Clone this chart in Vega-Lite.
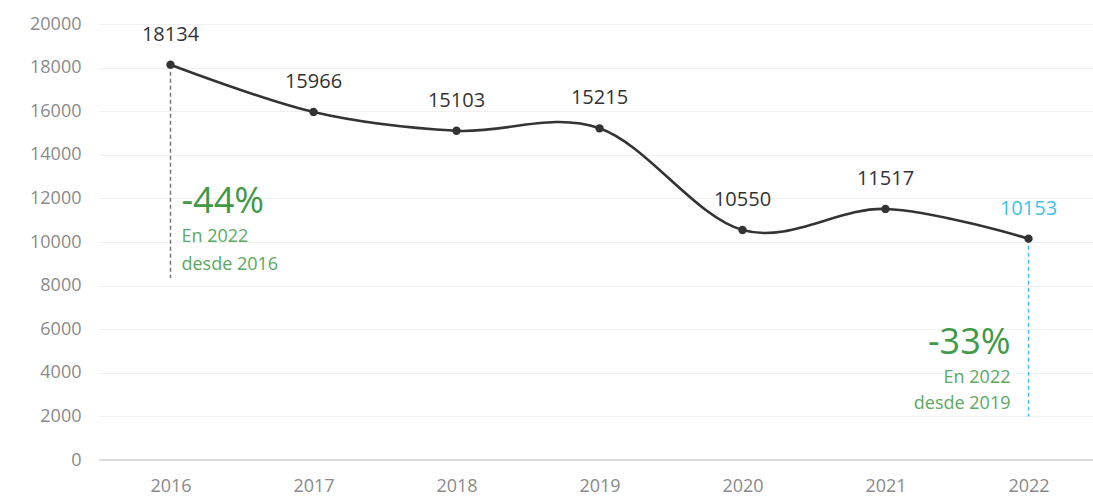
{
  "$schema": "https://vega.github.io/schema/vega-lite/v6.json",
  "width": 1001,
  "height": 436,
  "autosize": {"type": "none"},
  "padding": {"left": 99, "top": 24, "right": 0, "bottom": 39},
  "config": {"view": {"stroke": null}, "font": "Open Sans"},
  "datasets": {
    "series": [
      {"year": "2016", "value": 18134},
      {"year": "2017", "value": 15966},
      {"year": "2018", "value": 15103},
      {"year": "2019", "value": 15215},
      {"year": "2020", "value": 10550},
      {"year": "2021", "value": 11517},
      {"year": "2022", "value": 10153}
    ],
    "guides": [
      {"year": "2016", "from": 18134, "to": 8350, "kind": "gray"},
      {"year": "2022", "from": 10153, "to": 2000, "kind": "blue"}
    ],
    "notes": [
      {"year": "2016", "value": 11850, "text": "-44%", "side": "left", "size": "big"},
      {"year": "2016", "value": 10230, "text": "En 2022", "side": "left", "size": "small"},
      {"year": "2016", "value": 8950, "text": "desde 2016", "side": "left", "size": "small"},
      {"year": "2022", "value": 5370, "text": "-33%", "side": "right", "size": "big"},
      {"year": "2022", "value": 3760, "text": "En 2022", "side": "right", "size": "small"},
      {"year": "2022", "value": 2570, "text": "desde 2019", "side": "right", "size": "small"}
    ]
  },
  "encoding": {
    "x": {
      "field": "year", "type": "ordinal",
      "scale": {"type": "point", "padding": 0.5, "domain": ["2016","2017","2018","2019","2020","2021","2022"]},
      "axis": {"title": null, "labelAngle": 0, "domain": false, "ticks": false, "grid": false,
               "labelFontSize": 18, "labelColor": "#8a8a8a", "labelPadding": 17}
    }
  },
  "layer": [
    {
      "data": {"name": "series"},
      "mark": {"type": "line", "color": "#333333", "strokeWidth": 2.6, "interpolate": "cardinal"},
      "encoding": {
        "y": {
          "field": "value", "type": "quantitative",
          "scale": {"domain": [0, 20000], "nice": false},
          "axis": {"title": null, "values": [0,2000,4000,6000,8000,10000,12000,14000,16000,18000,20000],
                   "format": "d", "domain": false, "ticks": false, "gridColor": "#f0f0f0", "gridWidth": 1.2,
                   "labelFontSize": 18, "labelColor": "#8a8a8a", "labelPadding": 18}
        }
      }
    },
    {
      "data": {"values": [{"zero": 0}]},
      "mark": {"type": "rule", "color": "#dddddd", "strokeWidth": 2},
      "encoding": {"y": {"field": "zero", "type": "quantitative"}, "x": {"value": 0}, "x2": {"value": 1001}}
    },
    {
      "data": {"name": "guides"},
      "mark": {"type": "rule", "strokeWidth": 1.5, "strokeDash": [4, 3]},
      "encoding": {
        "y": {"field": "from", "type": "quantitative"},
        "y2": {"field": "to"},
        "color": {"condition": {"test": "datum.kind === 'blue'", "value": "#3cc2ef"}, "value": "#777777"}
      }
    },
    {
      "data": {"name": "series"},
      "mark": {"type": "point", "filled": true, "size": 70, "color": "#333333", "opacity": 1},
      "encoding": {"y": {"field": "value", "type": "quantitative"}}
    },
    {
      "data": {"name": "series"},
      "mark": {"type": "text", "dy": -30, "fontSize": 20, "baseline": "middle", "align": "center"},
      "encoding": {
        "y": {"field": "value", "type": "quantitative"},
        "text": {"field": "value", "type": "quantitative", "format": "d"},
        "color": {"condition": {"test": "datum.year === '2022'", "value": "#3cc2ef"}, "value": "#333333"}
      }
    },
    {
      "data": {"name": "notes"},
      "transform": [{"filter": "datum.side === 'left'"}],
      "mark": {"type": "text", "align": "left", "dx": 11, "baseline": "middle"},
      "encoding": {
        "y": {"field": "value", "type": "quantitative"},
        "text": {"field": "text"},
        "size": {"condition": {"test": "datum.size === 'big'", "value": 36}, "value": 18},
        "color": {"condition": {"test": "datum.size === 'big'", "value": "#3f9a48"}, "value": "#5aa95f"}
      }
    },
    {
      "data": {"name": "notes"},
      "transform": [{"filter": "datum.side === 'right'"}],
      "mark": {"type": "text", "align": "right", "dx": -18, "baseline": "middle"},
      "encoding": {
        "y": {"field": "value", "type": "quantitative"},
        "text": {"field": "text"},
        "size": {"condition": {"test": "datum.size === 'big'", "value": 36}, "value": 18},
        "color": {"condition": {"test": "datum.size === 'big'", "value": "#3f9a48"}, "value": "#5aa95f"}
      }
    }
  ]
}
